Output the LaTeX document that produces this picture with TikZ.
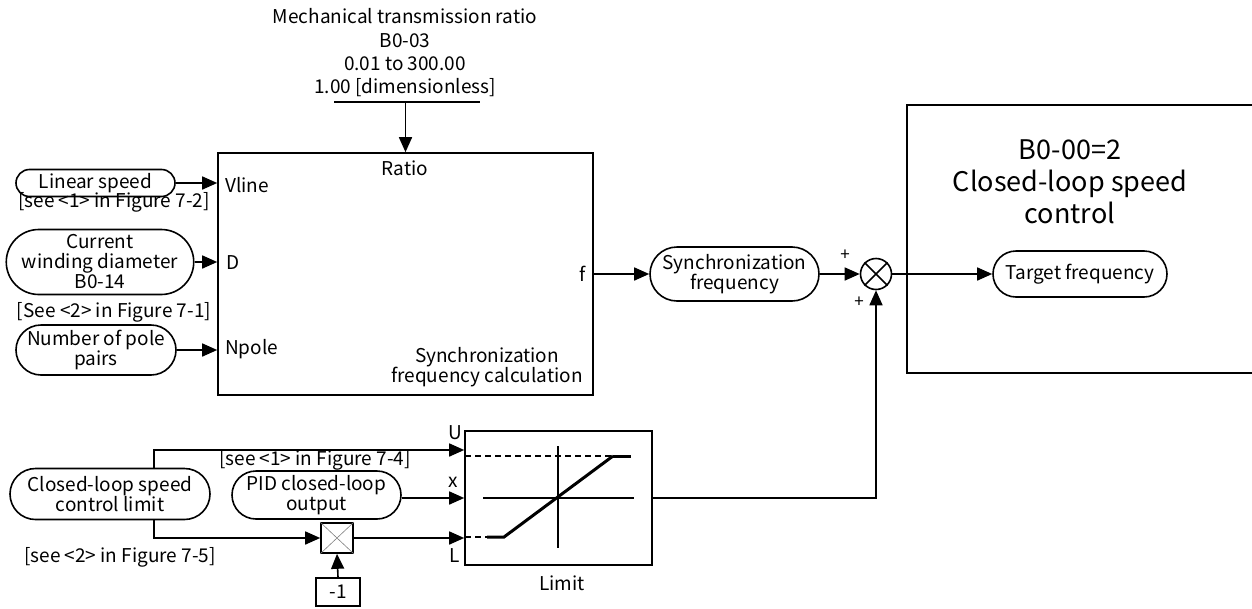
\documentclass[tikz,border=0pt]{standalone}
\usepackage{fontspec}
\setmainfont{Noto Sans CJK SC}
\usetikzlibrary{arrows.meta,positioning,shapes.misc}

\newcommand{\lblfont}{\fontsize{19}{20}\selectfont}
\newcommand{\bigfont}{\fontsize{27}{32}\selectfont}

\tikzset{
  wire/.style={line width=1.6pt},
  feed/.style={wire, -{Triangle[length=15pt,width=13pt]}},
  pill/.style={draw, line width=1.6pt, rounded rectangle, inner sep=1pt, align=center, font=\lblfont},
  blk/.style={draw, line width=1.6pt, inner sep=0pt},
  txt/.style={inner sep=0pt, align=center, font=\lblfont},
  limdash/.style={line width=1.6pt, dash pattern=on 6pt off 4pt},
  curve/.style={line width=3pt},
}

\begin{document}
\begin{tikzpicture}[x=1pt, y=-1pt]
\useasboundingbox (0,0) rectangle (1252,608);

% parameter on top
\node[txt, font=\fontsize{19}{23.3}\selectfont] (param) at (405,53) {Mechanical transmission ratio\\B0-03\\0.01 to 300.00\\1.00 [dimensionless]};
\draw[wire] (334,102) -- (480,102);
\coordinate (bar) at (405.5,102);

% synchronization frequency calculation block
\node[blk, minimum width=375pt, minimum height=242pt] (calc) at (405.5,274) {};
\node[txt] (ratio) at (405,168) {Ratio};
\node[txt, anchor=west] (vline) at (225,185) {Vline};
\node[txt, anchor=west] (din) at (226,263) {D};
\node[txt, anchor=west] (npole) at (225,349) {Npole};
\node[txt, anchor=east] (fout) at (586,274) {f};
\node[txt] (calcname) at (487,367) {Synchronization\\frequency calculation};

% inputs
\node[pill, minimum width=161pt, minimum height=27pt] (linspeed) at (95.5,183) {Linear speed};
\node[txt] (ref72) at (114,202) {[see <1> in Figure 7-2]};
\node[pill, minimum width=170pt, minimum height=65pt] (winding) at (100,262) {Current\\winding diameter\\B0-14};
\node[txt] (ref71) at (114,312) {[See <2> in Figure 7-1]};
\node[pill, minimum width=162pt, minimum height=50pt] (poles) at (96,350) {Number of pole\\pairs};

\draw[feed] (bar) -- (calc.north);
\draw[feed] (linspeed.east) -- (calc.west |- linspeed.east);
\draw[feed] (winding.east) -- (calc.west |- winding.east);
\draw[feed] (poles.east) -- (calc.west |- poles.east);

% sum and target
\node[pill, minimum width=171pt, minimum height=54pt] (sync) at (734.5,274) {Synchronization\\frequency};
\node[draw, wire, circle, minimum size=31pt, inner sep=0pt] (sum) at (876,274) {};
\draw[wire] (sum.north east) -- (sum.south west) (sum.north west) -- (sum.south east);
\node[txt, font=\fontsize{17}{18}\selectfont] (plusa) at (845,255) {+};
\node[txt, font=\fontsize{17}{18}\selectfont] (plusb) at (859,302) {+};

\draw[wire] (1252,105) -- (907,105) -- (907,373) -- (1252,373);
\node[txt, font=\bigfont] (mode) at (1070,182) {B0-00=2\\Closed-loop speed\\control};
\node[pill, minimum width=176pt, minimum height=46pt] (target) at (1080,274) {Target frequency};

\draw[feed] (calc.east) -- (sync.west);
\draw[feed] (sync.east) -- (sum.west);
\draw[feed] (sum.east) -- (target.west);

% limit block
\node[blk, minimum width=187pt, minimum height=134pt] (limit) at (558.5,498) {};
\draw[limdash] (465,456) -- (613,456);
\draw[curve] (613,456) -- (631,456);
\draw[limdash] (465,537) -- (487,537);
\draw[curve] (487,537) -- (504,537) -- (613,456);
\draw[wire] (483,498) -- (634,498);
\draw[wire] (558,446) -- (558,548);
\node[txt] (ulbl) at (455,433) {U};
\node[txt] (xlbl) at (453,482) {x};
\node[txt] (llbl) at (455,556) {L};
\node[txt] (limname) at (562,583) {Limit};

\coordinate (limU) at ([yshift=48pt]limit.west);

\node[pill, minimum width=202pt, minimum height=51pt] (cllimit) at (110,494) {Closed-loop speed\\control limit};
\node[pill, minimum width=171pt, minimum height=48pt] (pid) at (316.5,495) {PID closed-loop\\output};
\node[txt] (ref74) at (315,460) {[see <1> in Figure 7-4]};
\node[txt] (ref75) at (120,557) {[see <2> in Figure 7-5]};

\node[blk, minimum width=32pt, minimum height=30pt] (mult) at (337,538) {};
\draw[line width=0.6pt, gray] (mult.north east) -- (mult.south west) (mult.north west) -- (mult.south east);
\node[blk, minimum width=44pt, minimum height=28pt, font=\lblfont] (neg) at (338,592) {-1};

\draw[feed] ([xshift=44pt]cllimit.north) |- (limU);
\draw[feed] ([xshift=44pt]cllimit.south) |- (mult.west);
\draw[feed] (pid.east |- limit.west) -- (limit.west);
\draw[feed] (mult.east) -- (limit.west |- mult.east);
\draw[feed] (neg.north) -- (mult.south);
\draw[feed] (limit.east) -| (sum.south);
\end{tikzpicture}
\end{document}
